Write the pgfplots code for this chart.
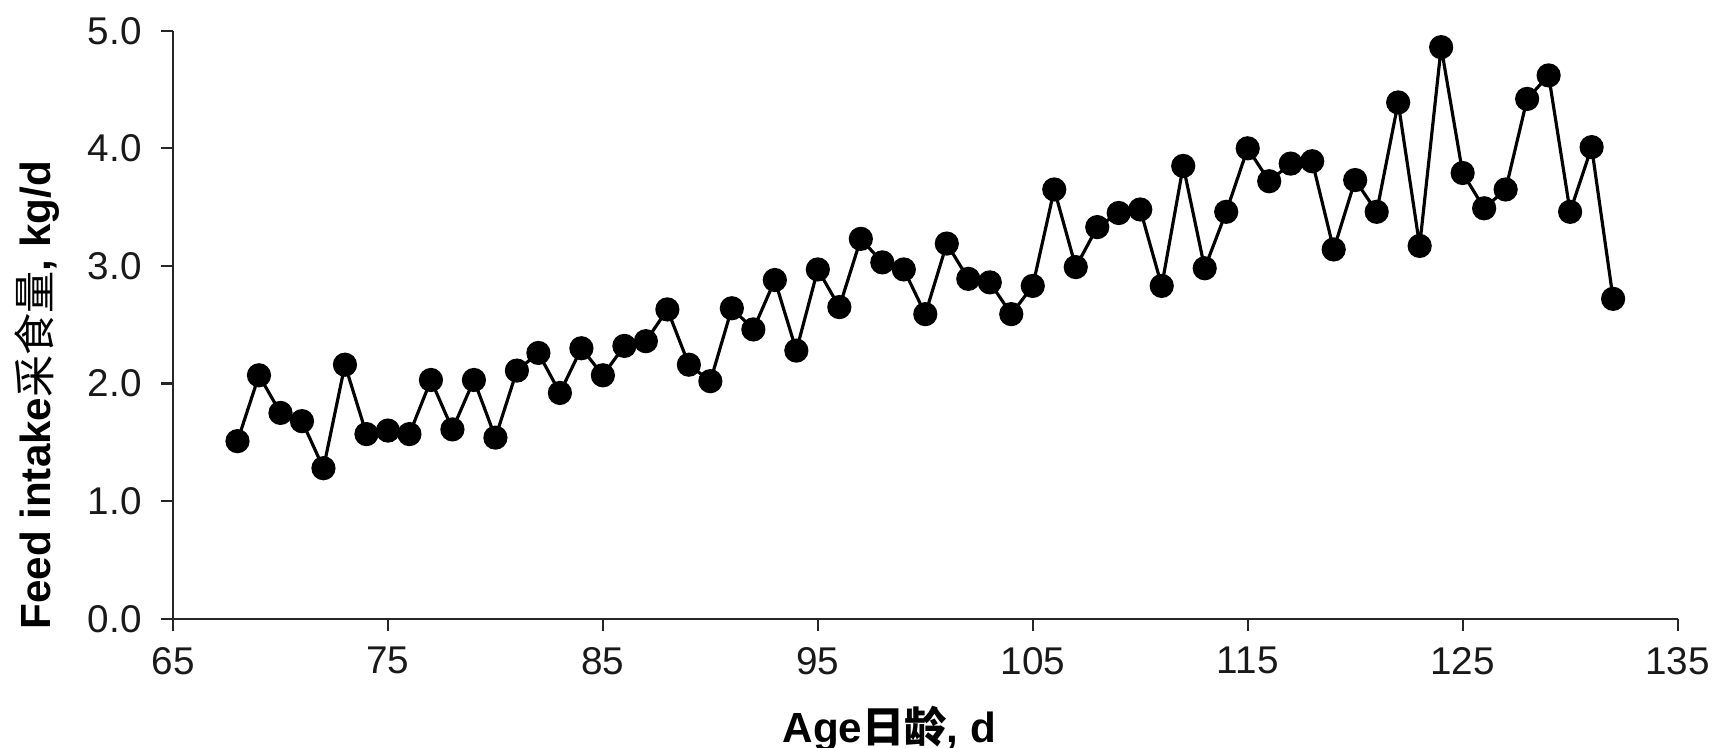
\documentclass[border=0pt]{standalone}
\usepackage{fontspec}
\setmainfont{Liberation Sans}
\newfontfamily\cjk{Noto Sans CJK SC}
\newfontfamily\cjkb{Noto Sans CJK SC Bold}
\usepackage{pgfplots}
\pgfplotsset{compat=1.18}

% feed intake (kg/d) by age (d)
\pgfplotstableread{
age intake
68 1.51
69 2.07
70 1.75
71 1.68
72 1.28
73 2.16
74 1.57
75 1.60
76 1.57
77 2.03
78 1.61
79 2.03
80 1.54
81 2.11
82 2.26
83 1.92
84 2.30
85 2.07
86 2.32
87 2.36
88 2.63
89 2.16
90 2.02
91 2.64
92 2.46
93 2.88
94 2.28
95 2.97
96 2.65
97 3.23
98 3.03
99 2.97
100 2.59
101 3.19
102 2.89
103 2.86
104 2.59
105 2.83
106 3.65
107 2.99
108 3.33
109 3.45
110 3.48
111 2.83
112 3.85
113 2.98
114 3.46
115 4.00
116 3.72
117 3.87
118 3.89
119 3.14
120 3.73
121 3.46
122 4.39
123 3.17
124 4.86
125 3.79
126 3.49
127 3.65
128 4.42
129 4.62
130 3.46
131 4.01
132 2.72
}\intake

\begin{document}
\begin{tikzpicture}
\begin{axis}[
  scale only axis, width=150.45mm, height=58.8mm,
  xmin=65, xmax=135, ymin=0, ymax=5,
  xtick={65,75,...,135}, ytick={0,1,...,5},
  axis x line*=bottom, axis y line*=left,
  axis line style={black!85, line width=0.6pt},
  tick align=outside, major tick length=1.2mm,
  tick style={black!85, line width=0.6pt},
  ticklabel style={font=\fontsize{11}{13}\selectfont, text=black!90},
  /pgf/number format/assume math mode=true,
  xticklabel style={yshift=-0.4mm},
  yticklabel style={xshift=-0.7mm, /pgf/number format/.cd, fixed, fixed zerofill, precision=1},
  every axis x label/.style={at={(rel axis cs:0.476,0)}, yshift=-11mm, anchor=center,
    font=\fontsize{12}{14}\selectfont\bfseries},
  every axis y label/.style={at={(rel axis cs:0,0.38)}, xshift=-13.6mm, rotate=90, anchor=center,
    font=\fontsize{12}{14}\selectfont\bfseries},
  xlabel={Age{\cjkb 日龄}, d},
  ylabel={Feed intake{\mdseries\cjk 采食量}, kg/d},
  clip=false,
]
\addplot[black, line width=0.9pt, mark=*, mark size=1.05mm,
  mark options={fill=black, draw=black}] table[x=age, y=intake] {\intake};
\coordinate (ll) at (rel axis cs:0,0);
\coordinate (ur) at (rel axis cs:1,1);
\end{axis}
\pgfresetboundingbox
\path[use as bounding box] ([shift={(-17.3mm,-12.92mm)}]ll) rectangle ([shift={(3.94mm,3.07mm)}]ur);
\end{tikzpicture}
\end{document}
